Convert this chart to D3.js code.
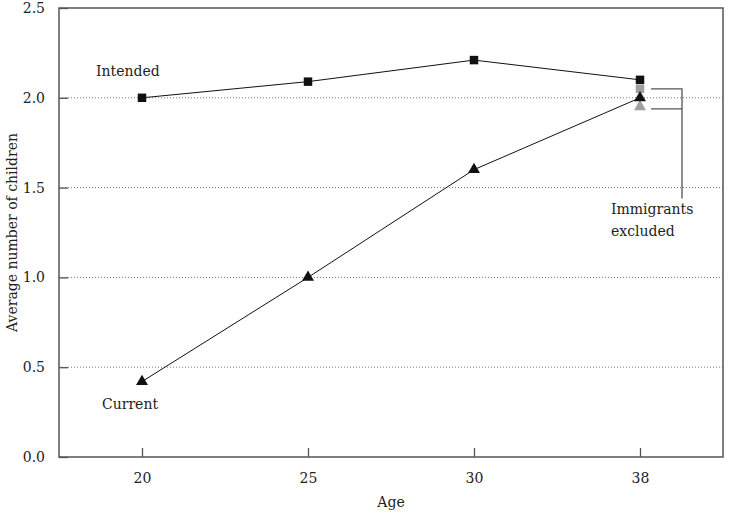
<!DOCTYPE html>
<html>
<head>
<meta charset="utf-8">
<script src="https://cdn.jsdelivr.net/npm/d3@7"></script>
<style>
  body { margin: 0; background: #fff; }
  text { font-family: "DejaVu Serif", "Liberation Serif", serif; fill: #222; }
</style>
</head>
<body>
<div id="chart"></div>
<script>
// data
const ages = ["20", "25", "30", "38"];
const intended = [2.0, 2.09, 2.21, 2.10];
const current = [0.42, 1.0, 1.60, 2.0];
const exclAge = "38";
const intendedExcl = 2.05;
const currentExcl = 1.95;
const yTicks = [0, 0.5, 1.0, 1.5, 2.0, 2.5];

const width = 729, height = 513;
const margin = { top: 8, right: 6, bottom: 56, left: 59 };
const w = width - margin.left - margin.right;
const h = height - margin.top - margin.bottom;
const fs = "14px";

const svg = d3.select("#chart").append("svg")
    .attr("width", width)
    .attr("height", height);

const g = svg.append("g").attr("transform", `translate(${margin.left},${margin.top})`);

const x = d3.scalePoint().domain(ages).range([0, w]).padding(0.5);
const y = d3.scaleLinear().domain([0, 2.5]).range([h, 0]);

// gridlines
g.selectAll("line.grid")
    .data(yTicks.filter(d => d > 0 && d < 2.5))
    .enter().append("line")
    .attr("class", "grid")
    .attr("x1", 0).attr("x2", w)
    .attr("y1", d => y(d)).attr("y2", d => y(d))
    .attr("stroke", "#777")
    .attr("stroke-width", 1)
    .attr("stroke-dasharray", "1,2");

// axes
const yAxis = g.append("g")
    .call(d3.axisLeft(y).tickValues(yTicks).tickFormat(d3.format(".1f")).tickSizeInner(-9).tickSizeOuter(0).tickPadding(14));
const xAxis = g.append("g")
    .attr("transform", `translate(0,${h})`)
    .call(d3.axisBottom(x).tickSizeInner(-9).tickSizeOuter(0).tickPadding(16));
[yAxis, xAxis].forEach(a => {
    a.select(".domain").remove();
    a.selectAll(".tick line").attr("stroke", "#555").attr("stroke-width", 1.3);
    a.selectAll(".tick text").style("font-size", fs).attr("fill", "#222");
});

// frame
g.append("rect")
    .attr("x", 0).attr("y", 0)
    .attr("width", w).attr("height", h)
    .attr("fill", "none")
    .attr("stroke", "#555")
    .attr("stroke-width", 1.5);

// lines
const line = d3.line().x((d, i) => x(ages[i])).y(d => y(d));
[intended, current].forEach(s => {
    g.append("path")
        .datum(s)
        .attr("d", line)
        .attr("fill", "none")
        .attr("stroke", "#111")
        .attr("stroke-width", 1);
});

const sq = d3.symbol().type(d3.symbolSquare).size(72);
const tri = d3.symbol().type(d3.symbolTriangle).size(62);

// excluded markers (grey)
g.append("path")
    .attr("d", sq())
    .attr("transform", `translate(${x(exclAge)},${y(intendedExcl)})`)
    .attr("fill", "#a0a0a0");
g.append("path")
    .attr("d", tri())
    .attr("transform", `translate(${x(exclAge)},${y(currentExcl)})`)
    .attr("fill", "#a0a0a0");

// markers
g.selectAll("path.sq")
    .data(intended)
    .enter().append("path")
    .attr("class", "sq")
    .attr("d", sq())
    .attr("transform", (d, i) => `translate(${x(ages[i])},${y(d)})`)
    .attr("fill", "#111");
g.selectAll("path.tri")
    .data(current)
    .enter().append("path")
    .attr("class", "tri")
    .attr("d", tri())
    .attr("transform", (d, i) => `translate(${x(ages[i])},${y(d)})`)
    .attr("fill", "#111");

// bracket to annotation
const bx0 = x(exclAge) + 11, bx1 = x(exclAge) + 42;
g.append("path")
    .attr("d", `M${bx0},${y(intendedExcl)}H${bx1}V${y(1.44)}M${bx0},${y(currentExcl) + 2}H${bx1}`)
    .attr("fill", "none")
    .attr("stroke", "#555")
    .attr("stroke-width", 1.3);

g.append("text")
    .attr("x", bx1 - 71).attr("y", y(1.45) + 17)
    .style("font-size", fs)
    .text("Immigrants");
g.append("text")
    .attr("x", bx1 - 71).attr("y", y(1.45) + 39)
    .style("font-size", fs)
    .text("excluded");

// series labels
g.append("text")
    .attr("x", x("20") - 46).attr("y", y(2.0) - 22)
    .style("font-size", fs)
    .text("Intended");
g.append("text")
    .attr("x", x("20") - 40).attr("y", y(0.42) + 27)
    .style("font-size", fs)
    .text("Current");

// axis titles
svg.append("text")
    .attr("x", margin.left + w / 2)
    .attr("y", height - 6)
    .attr("text-anchor", "middle")
    .style("font-size", fs)
    .text("Age");
svg.append("text")
    .attr("transform", `translate(17,${margin.top + h / 2}) rotate(-90)`)
    .attr("text-anchor", "middle")
    .style("font-size", fs)
    .text("Average number of children");
</script>
</body>
</html>
